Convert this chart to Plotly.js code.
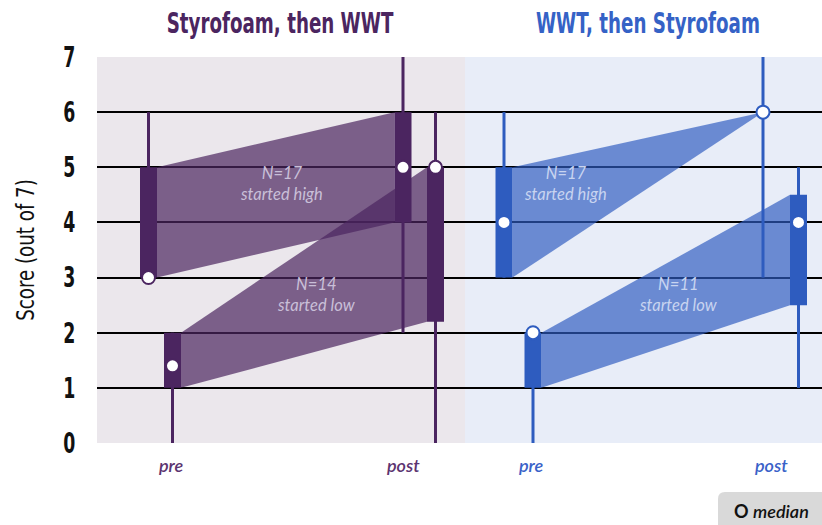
<!DOCTYPE html>
<html>
<head>
<meta charset="utf-8">
<script src="https://cdn.plot.ly/plotly-3.0.1.min.js"></script>
<style>
html,body{margin:0;padding:0;background:#fff;}
#chart{width:822px;height:525px;}
</style>
</head>
<body>
<div id="chart"></div>
<script>
// ---------- data ----------
const groups = ["Styrofoam, then WWT", "WWT, then Styrofoam"];
const subgroups = ["started high", "started low"];
const groupN = [[17, 14], [17, 11]];
const phases = ["pre", "post"];
// five-number summaries [min, q1, median, q3, max], indexed [group][subgroup][phase]
const stats = [
  [ // Styrofoam, then WWT
    [[3, 3, 3, 5, 6], [2, 4, 5, 6, 7]],          // started high: pre, post
    [[0, 1, 1.4, 2, 2], [0, 2.2, 5, 5, 6]]       // started low: pre, post
  ],
  [ // WWT, then Styrofoam
    [[3, 3, 4, 5, 6], [3, 6, 6, 6, 7]],
    [[0, 1, 2, 2, 2], [1, 2.5, 4, 4.5, 5]]
  ]
];
const yTicks = [0, 1, 2, 3, 4, 5, 6, 7];

// ---------- layout config (positions / styles) ----------
const X0 = 97, X1 = 822;                   // x axis range (1 unit = 1 px)
const panelEdges = [[97, 465], [465, 822]];
const titleX = [280, 648];
const centers = [                           // [group][subgroup][phase]
  [[148.5, 403], [172.5, 435.5]],
  [[504, 763], [533, 798.5]]
];
const labelX = [[171, 403], [531, 771]];    // pre/post label centres
const boxW = 17;
const darkCol = ["#4b2560", "#2e5cbf"];
const bandCol = ["rgba(75,37,96,0.70)", "rgba(46,92,191,0.68)"];
const bgCol = ["#ebe7ec", "#e8edf8"];
const titleCol = ["#4b2560", "#3562c6"];
const labelCol = ["#5c3470", "#3a62c8"];
const nTextCol = ["#c9bfd8", "#c8d4f0"];
const nTextPos = [[[281, 4.7], [316, 2.7]], [[565, 4.7], [678, 2.7]]];
const condensed = "'DejaVu Sans', sans-serif";

const traces = [];
const shapes = [];
const annotations = [];

// bands
groups.forEach((g, gi) => {
  subgroups.forEach((s, si) => {
    const pre = stats[gi][si][0], post = stats[gi][si][1];
    const cp = centers[gi][si][0], cq = centers[gi][si][1];
    const xa = cp + boxW / 2;
    const xb = (post[1] === post[3]) ? cq : cq - boxW / 2;
    traces.push({
      type: "scatter", mode: "lines", x: [xa, xb, xb, xa, xa],
      y: [pre[3], post[3], post[1], pre[1], pre[3]],
      fill: "toself", fillcolor: bandCol[gi], line: {width: 0}, hoverinfo: "skip", showlegend: false
    });
  });
});
// whiskers, boxes
groups.forEach((g, gi) => {
  subgroups.forEach((s, si) => {
    phases.forEach((p, pi) => {
      const st = stats[gi][si][pi], c = centers[gi][si][pi];
      traces.push({
        type: "scatter", mode: "lines", x: [c, c], y: [st[0], st[4]],
        line: {color: darkCol[gi], width: 3}, hoverinfo: "skip", showlegend: false
      });
      if (st[3] > st[1]) {
        const a = c - boxW / 2, b = c + boxW / 2;
        traces.push({
          type: "scatter", mode: "lines", x: [a, b, b, a, a], y: [st[1], st[1], st[3], st[3], st[1]],
          fill: "toself", fillcolor: darkCol[gi], line: {width: 0}, hoverinfo: "skip", showlegend: false
        });
      }
    });
  });
});
// medians
groups.forEach((g, gi) => {
  const xs = [], ys = [];
  subgroups.forEach((s, si) => phases.forEach((p, pi) => {
    xs.push(centers[gi][si][pi]); ys.push(stats[gi][si][pi][2]);
  }));
  traces.push({
    type: "scatter", mode: "markers", x: xs, y: ys, cliponaxis: false,
    marker: {size: 13, color: "#ffffff", line: {color: darkCol[gi], width: 2}},
    hoverinfo: "skip", showlegend: false
  });
});

// panels, titles, labels
groups.forEach((g, gi) => {
  shapes.push({type: "rect", layer: "below", xref: "x", yref: "y",
    x0: panelEdges[gi][0], x1: panelEdges[gi][1], y0: 0, y1: 7,
    fillcolor: bgCol[gi], line: {width: 0}});
  annotations.push({xref: "x", yref: "paper", x: titleX[gi], y: 1.087,
    text: g, showarrow: false, xanchor: "center", yanchor: "middle",
    font: {family: condensed, size: 29, color: titleCol[gi], weight: "bold"}});
  phases.forEach((p, pi) => {
    annotations.push({xref: "x", yref: "paper", x: labelX[gi][pi], y: -0.057, text: "<i>" + p + "</i>",
      showarrow: false, xanchor: "center", yanchor: "middle",
      font: {family: "Lato, 'Open Sans', sans-serif", size: 18, color: labelCol[gi], weight: 600}});
  });
  subgroups.forEach((s, si) => {
    annotations.push({xref: "x", yref: "y", x: nTextPos[gi][si][0], y: nTextPos[gi][si][1],
      text: "<i>N=" + groupN[gi][si] + "<br>" + s + "</i>", showarrow: false,
      font: {family: "Lato, 'Open Sans', sans-serif", size: 16.5, color: nTextCol[gi]}});
  });
});

// median legend (rounded box)
(function () {
  const px = v => (v - X0) / (X1 - X0);
  const py = v => (443 - v) / 386;
  const x0 = px(718), x1 = px(840), y0 = py(540), y1 = py(492);
  const rx = 7 / 725, ry = 7 / 386;
  shapes.push({type: "path", xref: "paper", yref: "paper", fillcolor: "#d9d9d9", line: {width: 0},
    path: `M ${x0 + rx} ${y1} L ${x1} ${y1} L ${x1} ${y0} L ${x0} ${y0} L ${x0} ${y1 - ry} Q ${x0} ${y1} ${x0 + rx} ${y1} Z`});
  annotations.push({xref: "paper", yref: "paper", x: px(771), y: py(511), showarrow: false,
    xanchor: "center", yanchor: "middle",
    text: "<b>O</b> <i>median</i>", font: {family: "Lato, sans-serif", size: 18, color: "#111", weight: 600}});
})();

const layout = {
  width: 822, height: 525,
  margin: {l: 97, r: 0, t: 57, b: 82},
  paper_bgcolor: "#ffffff", plot_bgcolor: "#ffffff",
  showlegend: false,
  xaxis: {range: [X0, X1], showgrid: false, zeroline: false, showticklabels: false, ticks: "", fixedrange: true},
  yaxis: {range: [0, 7], tickvals: yTicks, ticktext: yTicks.map(String), showgrid: true, gridcolor: "#000000",
    gridwidth: 2, zeroline: false, ticks: "", ticklabelstandoff: 17,
    tickfont: {family: condensed, size: 28, color: "#111", weight: "bold"},
    title: {text: "Score (out of 7)", standoff: 18, font: {family: condensed, size: 24, color: "#111"}}},
  shapes: shapes, annotations: annotations
};

// narrow the condensed-style texts horizontally (the original uses a condensed typeface)
function condense(el, s) {
  const bb = el.getBBox();
  const cx = bb.x + bb.width / 2;
  const t = el.getAttribute("transform") || "";
  el.setAttribute("transform", t + ` translate(${cx},0) scale(${s},1) translate(${-cx},0)`);
}
Plotly.newPlot("chart", traces, layout, {displayModeBar: false, staticPlot: true}).then(gd => {
  gd.querySelectorAll(".ytick text").forEach(el => condense(el, 0.62));
  gd.querySelectorAll(".ytitle").forEach(el => condense(el, 0.76));
  gd.querySelectorAll(".annotation-text").forEach(el => {
    if ((el.getAttribute("style") || "").indexOf("DejaVu") >= 0) condense(el, 0.63);
  });
});
</script>
</body>
</html>
